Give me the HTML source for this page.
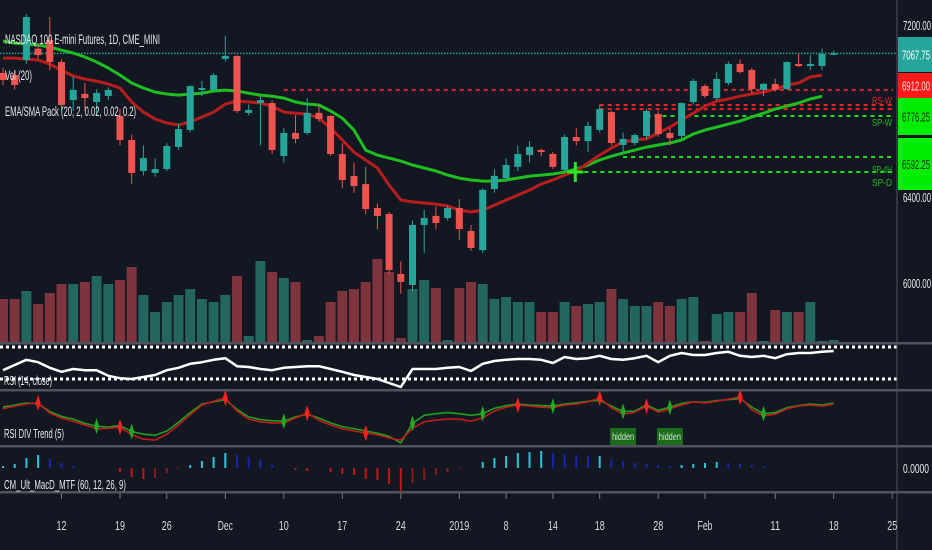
<!DOCTYPE html>
<html><head><meta charset="utf-8"><style>
html,body{margin:0;padding:0;background:#131722;}
svg{display:block;}
text{font-family:"Liberation Sans",sans-serif;}
</style></head><body>
<svg id="chart" width="932" height="550" viewBox="0 0 932 550" xmlns="http://www.w3.org/2000/svg">
<rect x="0" y="0" width="932" height="550" fill="#131722"/>
<g id="g-vol"></g>
<g id="g-lines"></g>
<g id="g-ema"></g>
<g id="g-candles"></g>
<g id="g-rsi"></g>
<g id="g-div"></g>
<g id="g-macd"></g>
<g id="g-axis"></g>
<g id="g-legend">
<text x="5" y="44" font-size="14" fill="#e8e8e8" textLength="155" lengthAdjust="spacingAndGlyphs">NASDAQ 100 E-mini Futures, 1D, CME_MINI</text>
<text x="5" y="80" font-size="14" fill="#e8e8e8" textLength="27" lengthAdjust="spacingAndGlyphs">Vol (20)</text>
<text x="5" y="116" font-size="14" fill="#e8e8e8" textLength="131" lengthAdjust="spacingAndGlyphs">EMA/SMA Pack (20, 2, 0.02, 0.02, 0.2)</text>
<text x="4" y="385" font-size="13" fill="#e8e8e8" textLength="48" lengthAdjust="spacingAndGlyphs">RSI (14, close)</text>
<text x="4" y="438" font-size="13" fill="#e8e8e8" textLength="60" lengthAdjust="spacingAndGlyphs">RSI DIV Trend (5)</text>
<text x="4" y="489" font-size="13" fill="#e8e8e8" textLength="122" lengthAdjust="spacingAndGlyphs">CM_Ult_MacD_MTF (60, 12, 26, 9)</text>
</g>
</svg>
<script>
const opens=[6977,6967,7037,7090,7130,7028,6851,6880,6842,6870,6777,6665,6521,6512,6530,6633,6712,6898,6898,7042,7056,6791,6837,6837,6591,6698,6698,6791,6777,6600,6498,6460,6349,6321,6042,5991,6270,6312,6302,6349,6242,6153,6437,6488,6540,6595,6619,6600,6526,6679,6660,6712,6795,6642,6651,6684,6786,6698,6684,6842,6916,6860,6930,7019,6991,6898,6926,6902,7019,7009,7009,7066];
const highs=[7000,6990,7250,7110,7237,7040,6960,6930,6900,6910,6810,6690,6640,6580,6650,6740,6920,6940,6975,7150,7060,6830,6870,6850,6720,6780,6860,6830,6780,6650,6560,6540,6370,6330,6100,6290,6340,6355,6360,6390,6270,6440,6530,6580,6640,6660,6625,6610,6690,6720,6750,6830,6800,6700,6695,6810,6800,6720,6840,6950,6925,6980,7030,7040,7000,6930,6950,7030,7070,7060,7090,7080];
const lows=[6920,6900,7020,7040,6990,6800,6800,6800,6780,6850,6640,6460,6500,6495,6520,6620,6700,6870,6890,7030,6790,6780,6640,6600,6560,6650,6690,6750,6590,6440,6420,6320,6250,6040,5950,5960,6140,6250,6290,6200,6150,6140,6420,6470,6520,6560,6590,6530,6520,6640,6610,6700,6640,6600,6640,6670,6680,6640,6670,6830,6860,6850,6920,6975,6880,6870,6890,6900,7005,6990,6990,7060];
const closes=[6944,6921,7237,7060,7028,6828,6898,6860,6884,6898,6665,6512,6581,6530,6637,6716,6916,6907,6967,7056,6800,6805,6851,6619,6698,6670,6791,6763,6600,6479,6451,6344,6312,6060,6005,6270,6302,6279,6349,6251,6163,6433,6498,6549,6600,6633,6609,6540,6679,6660,6730,6809,6651,6670,6688,6800,6693,6674,6837,6940,6870,6949,7019,6981,6902,6926,6898,7028,7009,7019,7065,7068];
const volumes=[215,215,255,190,245,290,290,300,330,290,310,375,235,150,200,235,265,215,200,235,330,30,405,350,320,300,10,30,200,255,265,300,415,350,20,265,310,270,10,270,300,290,215,225,200,200,150,150,200,180,190,200,265,215,180,180,200,180,215,225,5,140,150,150,245,5,160,150,150,200,5,10];
const emaFast=[7046,7046,7042,7037,7018,6990,6963,6949,6939,6925,6907,6842,6795,6763,6744,6735,6749,6772,6795,6832,6846,6842,6837,6823,6795,6790,6786,6767,6721,6665,6609,6572,6535,6456,6386,6377,6372,6367,6358,6339,6330,6339,6362,6386,6409,6432,6460,6479,6502,6521,6558,6595,6628,6656,6665,6670,6697,6725,6758,6790,6823,6846,6856,6869,6879,6888,6902,6921,6930,6958,6967];
const smaSlow=[7125,7116,7111,7107,7097,7083,7070,7051,7028,7000,6967,6930,6907,6888,6879,6874,6879,6883,6893,6897,6893,6883,6874,6869,6860,6842,6832,6828,6800,6767,6711,6618,6595,6581,6567,6549,6535,6521,6502,6488,6479,6474,6474,6479,6488,6497,6502,6507,6516,6530,6549,6572,6590,6604,6618,6632,6642,6651,6665,6693,6711,6725,6739,6753,6772,6790,6809,6823,6837,6856,6869];
const rsiValues=[41,47.5,54,51,44,39,42.5,41,41,34,31,30,32.5,35,41,44,49,51,54,56,46,45,42.5,41,44,45,46,46,42.5,39,35,32.5,30,25,20,42.5,42.5,42.5,44,45,40,49,52.5,54,55,55,54,50,57.5,55,56,59,55,54,56,59,51,59,62.5,60,60,62.5,64,59,57.5,59,56,61,62.5,62.5,64,65];
const divRed=[67,72,76,78,59,50,44,37,30,31,33,19,11,9,20,37,56,74,81,87,63,48,43,41,41,50,59,46,37,30,26,22,19,13,9,31,43,46,48,48,44,50,63,70,74,72,70,69,74,76,80,87,69,57,61,72,61,67,74,80,78,81,85,89,65,54,57,67,72,74,72,76];
const divGreen=[70,74,78,76,62,53,48,40,35,33,36,25,20,18,26,42,60,76,80,84,66,52,47,45,44,52,57,50,41,34,30,26,22,16,4,40,55,58,60,58,55,58,68,73,76,74,73,72,76,78,81,83,72,62,63,74,64,70,77,80,79,82,84,86,70,58,60,69,73,76,74,78];
const divPeaks=[3,10,19,26,31,44,51,55,63];
const divTroughs=[8,11,24,35,41,47,53,57,65];
const hiddenLabels=[53,57];
const macdHist=[2,4,10,13,9,5,2,0,0,0,-4,-9,-11,-10,-5,-1,3,7,11,15,13,11,8,3,0,-2,-3,0,-4,-6,-7,-11,-12,-16,-23,-15,-12,-7,-4,-1,0,6,10,12,15,16,17,15,14,13,12,12,9,7,5,4,3,2,3,4,5,6,5,4,3,2,0,0,0,0,0,0];
const resistLevels=[6898,6828,6809];
const resistStart=[24,51,51];
const supportLevels=[6777,6586,6516];
const supportStart=[55,53,49];
const priceTicks=[7200,6400,6000];
const priceTickLabels=["7200.00","6400.00","6000.00"];
const timeTickIdx=[5,10,14,19,24,29,34,39,43,47,51,56,60,66,71,76];
const timeTickLabels=["12","19","26","Dec","10","17","24","2019","8","14","18","28","Feb","11","18","25"];
const lastPrice=7067.75;

const NS="http://www.w3.org/2000/svg";
function X(i){return 3+i*11.7;}
function PY(p){return 25+(7200-p)*0.215;}
function VY(v){return 342-v*0.2;}
function RY(v){return 347+(70-v)*0.8;}
function DY(v){return 391+(100-v)*0.54;}
function MY(v){return 468-v*1;}
function mk(tag,attrs,parent){const e=document.createElementNS(NS,tag);for(const k in attrs)e.setAttribute(k,attrs[k]);parent.appendChild(e);return e;}
const gVol=document.getElementById('g-vol'),gLines=document.getElementById('g-lines'),gEma=document.getElementById('g-ema'),gC=document.getElementById('g-candles'),gR=document.getElementById('g-rsi'),gD=document.getElementById('g-div'),gM=document.getElementById('g-macd'),gA=document.getElementById('g-axis');

volumes.forEach((v,i)=>{const up=closes[i]>=opens[i];
 const r=mk('rect',{x:X(i)-5,y:VY(v),width:10,height:342-VY(v),fill:up?'#22665f':'#7d343c'},gVol);
 
 });

const lp=mk('line',{x1:0,x2:897,y1:PY(lastPrice),y2:PY(lastPrice),stroke:'#26a69a','stroke-width':1.5,'stroke-dasharray':'1.5 1.5'},gLines);


resistLevels.forEach((p,k)=>{const l=mk('line',{x1:X(resistStart[k]),x2:893,y1:PY(p),y2:PY(p),stroke:'#e0262a','stroke-width':2,'stroke-dasharray':'4 4'},gLines);
 
 });
supportLevels.forEach((p,k)=>{const l=mk('line',{x1:X(supportStart[k]),x2:893,y1:PY(p),y2:PY(p),stroke:'#22dd22','stroke-width':2,'stroke-dasharray':'4 4'},gLines);
 
 });
[['RS-W','#e0262a',104],['SP-W','#22bb22',126],['SP-4H','#22bb22',173],['SP-D','#22bb22',186]].forEach(a=>{const t=mk('text',{x:872,y:a[2],'font-size':10,fill:a[1],textLength:20,lengthAdjust:'spacingAndGlyphs'},gLines);t.textContent=a[0];
 
 });

function poly(arr,yf,color,w,name,g){const pts=arr.map((v,i)=>X(i).toFixed(1)+','+yf(v).toFixed(1)).join(' ');
 const p=mk('polyline',{points:pts,fill:'none',stroke:color,'stroke-width':w,'stroke-linejoin':'round'},g);
 
 return p;}
poly(smaSlow,PY,'#1fbd1f',3,'sma-line',gEma);
poly(emaFast,PY,'#b81d1d',3,'ema-line',gEma);

opens.forEach((o,i)=>{const c=closes[i],up=c>=o,col=up?'#26a69a':'#ef5350',x=X(i);
 const w=mk('line',{x1:x,x2:x,y1:PY(highs[i]),y2:PY(lows[i]),stroke:col,'stroke-width':1},gC);
 
 
 const t=PY(Math.max(o,c)),b=PY(Math.min(o,c));
 const r=mk('rect',{x:x-3.5,y:t,width:7,height:Math.max(1.5,b-t),fill:col},gC);
 
 });
const cx=X(49)-1, cy=PY(6516);
const cr=mk('path',{d:`M${cx-8},${cy}H${cx+8}M${cx},${cy-10}V${cy+10}`,stroke:'#22ee22','stroke-width':3},gC);



[70,30].forEach(v=>{const l=mk('line',{x1:0,x2:897,y1:RY(v),y2:RY(v),stroke:'#ffffff','stroke-width':3,'stroke-dasharray':'3 3'},gR);
 
 });
poly(rsiValues,RY,'#ffffff',2.5,'rsi-line',gR);

poly(divGreen,DY,'#1e9e1e',1.6,'div-green-line',gD);
poly(divRed,DY,'#c21b1b',1.6,'div-red-line',gD);
divPeaks.forEach(i=>{const x=X(i),y=DY(divRed[i]);const m=mk('path',{d:`M${x},${y-8}L${x+2.5},${y}L${x},${y+8}L${x-2.5},${y}Z`,fill:'#ff2020'},gD);
 
 });
divTroughs.forEach(i=>{const x=X(i),y=DY(divGreen[i]);const m=mk('path',{d:`M${x},${y-8}L${x+2.5},${y}L${x},${y+8}L${x-2.5},${y}Z`,fill:'#22aa22'},gD);
 
 });
hiddenLabels.forEach(i=>{const x=X(i);
 const r=mk('rect',{x:x-13,y:428,width:26,height:17,fill:'#1b6b1b'},gD);
 
 
 const t=mk('text',{x:x,y:440,'font-size':10,fill:'#cfe8cf','text-anchor':'middle',textLength:22,lengthAdjust:'spacingAndGlyphs'},gD);t.textContent='hidden';
 
 });

macdHist.forEach((v,i)=>{if(v===0)return;const prev=i>0?macdHist[i-1]:0;let col;
 if(v>0)col=v>=prev?'#26c6da':'#1a22b0';else col=v<=prev?'#c41616':'#8b1a1a';
 const r=mk('rect',{x:X(i)-1,y:Math.min(MY(v),MY(0)),width:2,height:Math.abs(MY(v)-MY(0)),fill:col},gM);
 
 });

[343,390,446,492].forEach(y=>{const l=mk('rect',{x:0,y:y-1,width:932,height:2.5,fill:'#50535e'},gA);
 
 });
const ax=mk('line',{x1:897,x2:897,y1:0,y2:550,stroke:'#50535e','stroke-width':1},gA);


priceTicks.forEach((p,k)=>{const t=mk('text',{x:903,y:PY(p)+5,'font-size':13,fill:'#e8e8e8',textLength:28,lengthAdjust:'spacingAndGlyphs'},gA);t.textContent=priceTickLabels[k];
 
 });
const boxes=[[37,35,'#26a69a','7067.75','#ffffff'],[73,25,'#ff1a1a','6912.00','#ffdddd'],[98,37,'#00ee00','6776.25','#0b2a0b'],[138,52,'#00ee00','6592.25','#0b2a0b']];
boxes.forEach(b=>{const r=mk('rect',{x:898,y:b[0],width:34,height:b[1],fill:b[2]},gA);
 
 
 const t=mk('text',{x:902,y:b[0]+b[1]/2+5,'font-size':13,fill:b[4],textLength:28,lengthAdjust:'spacingAndGlyphs'},gA);t.textContent=b[3];
 
 });
const z=mk('text',{x:903,y:MY(0)+5,'font-size':13,fill:'#e8e8e8',textLength:26,lengthAdjust:'spacingAndGlyphs'},gA);z.textContent='0.0000';


timeTickIdx.forEach((i,k)=>{const x=X(i);
 const tk=mk('line',{x1:x,x2:x,y1:493,y2:499,stroke:'#787b86','stroke-width':1},gA);
 
 
 const s=timeTickLabels[k];
 const t=mk('text',{x:x,y:530,'font-size':13,fill:'#d8dae0','text-anchor':'middle',textLength:s.length*5,lengthAdjust:'spacingAndGlyphs'},gA);t.textContent=s;
 
 });
</script>
</body></html>
